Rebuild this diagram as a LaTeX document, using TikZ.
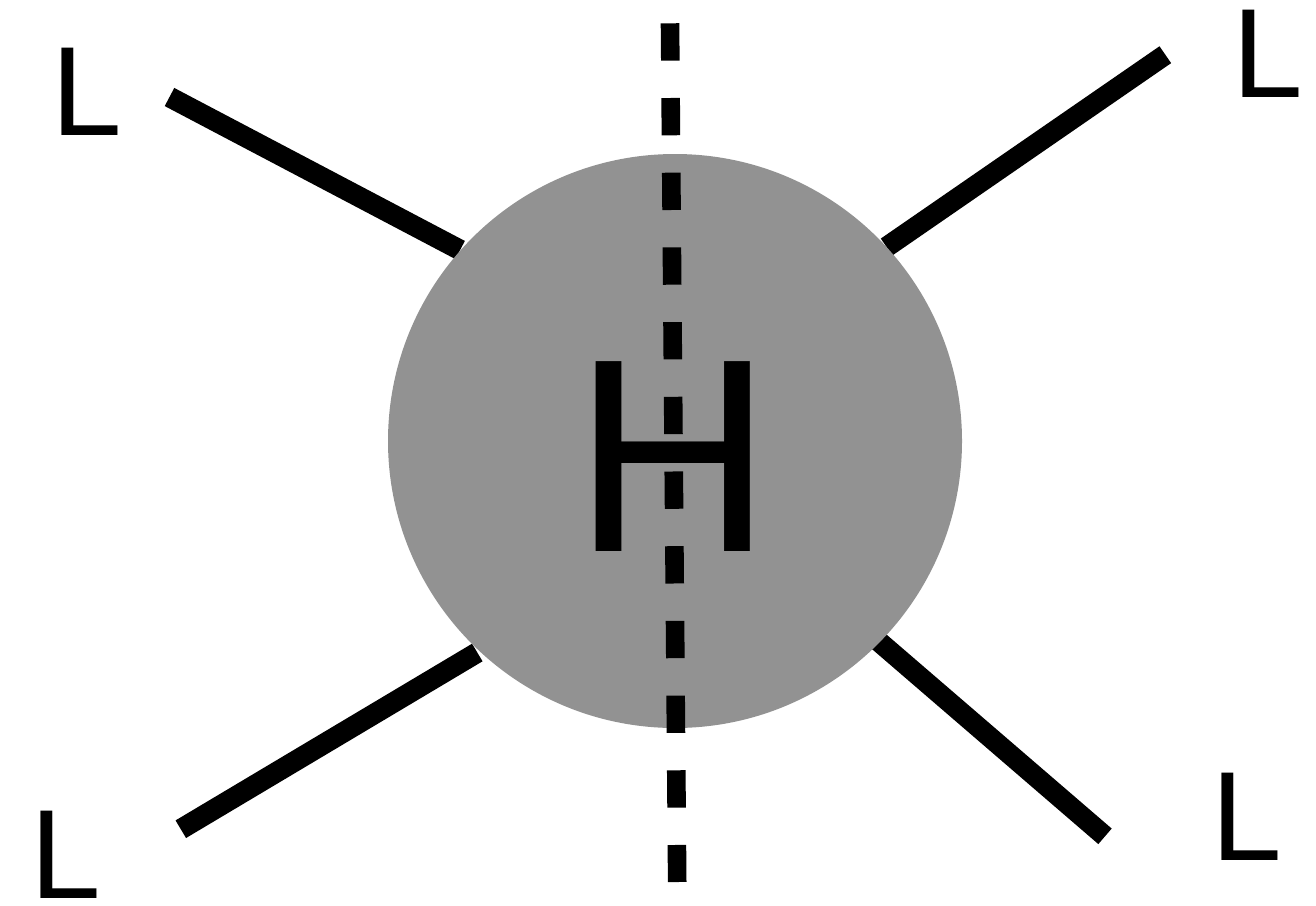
\documentclass[tikz,border=0pt]{standalone}
\usepackage{fontspec}
\setmainfont{Liberation Sans}
\definecolor{ballgray}{RGB}{146,146,146}
\begin{document}
\begin{tikzpicture}[x=1pt,y=-1pt,
  bond/.style={line width=20.5pt, line cap=butt},
  lig/.style={anchor=base, inner sep=0pt, text depth=0pt, text height=91pt, font=\fontsize{127}{127}\selectfont},
  metal/.style={anchor=base, inner sep=0pt, text depth=0pt, text height=198pt, font=\fontsize{276}{276}\selectfont}]
\useasboundingbox (0,0) rectangle (1316,905);
% bond ends
\coordinate (ulo) at (169.5,97);
\coordinate (uli) at (460.1,250);
\coordinate (uro) at (1165.3,54.7);
\coordinate (uri) at (886.6,247);
\coordinate (llo) at (180.8,829.2);
\coordinate (lli) at (477.3,652.5);
\coordinate (lro) at (1105,836.3);
\coordinate (lri) at (876.3,639.3);
\draw[bond] (ulo) -- (uli);
\draw[bond] (uro) -- (uri);
\draw[bond] (llo) -- (lli);
\draw[bond] (lro) -- (lri);
% ball
\node[circle, fill=ballgray, draw=none, minimum size=574pt, inner sep=0pt] (ball) at (675,441) {};
% mirror plane
\coordinate (ptop) at (670,23.3);
\coordinate (pbot) at (677.2,882);
\draw[line width=18.6pt, dash pattern=on 37.3pt off 37.4pt] (ptop) -- (pbot);
% labels
\node[metal] (H) at (673.5,551) {H};
\node[lig] (L1) at (86.8,135.3) {L};
\node[lig] (L2) at (1267.6,97) {L};
\node[lig] (L3) at (65.6,898) {L};
\node[lig] (L4) at (1246.6,860) {L};
\end{tikzpicture}
\end{document}
